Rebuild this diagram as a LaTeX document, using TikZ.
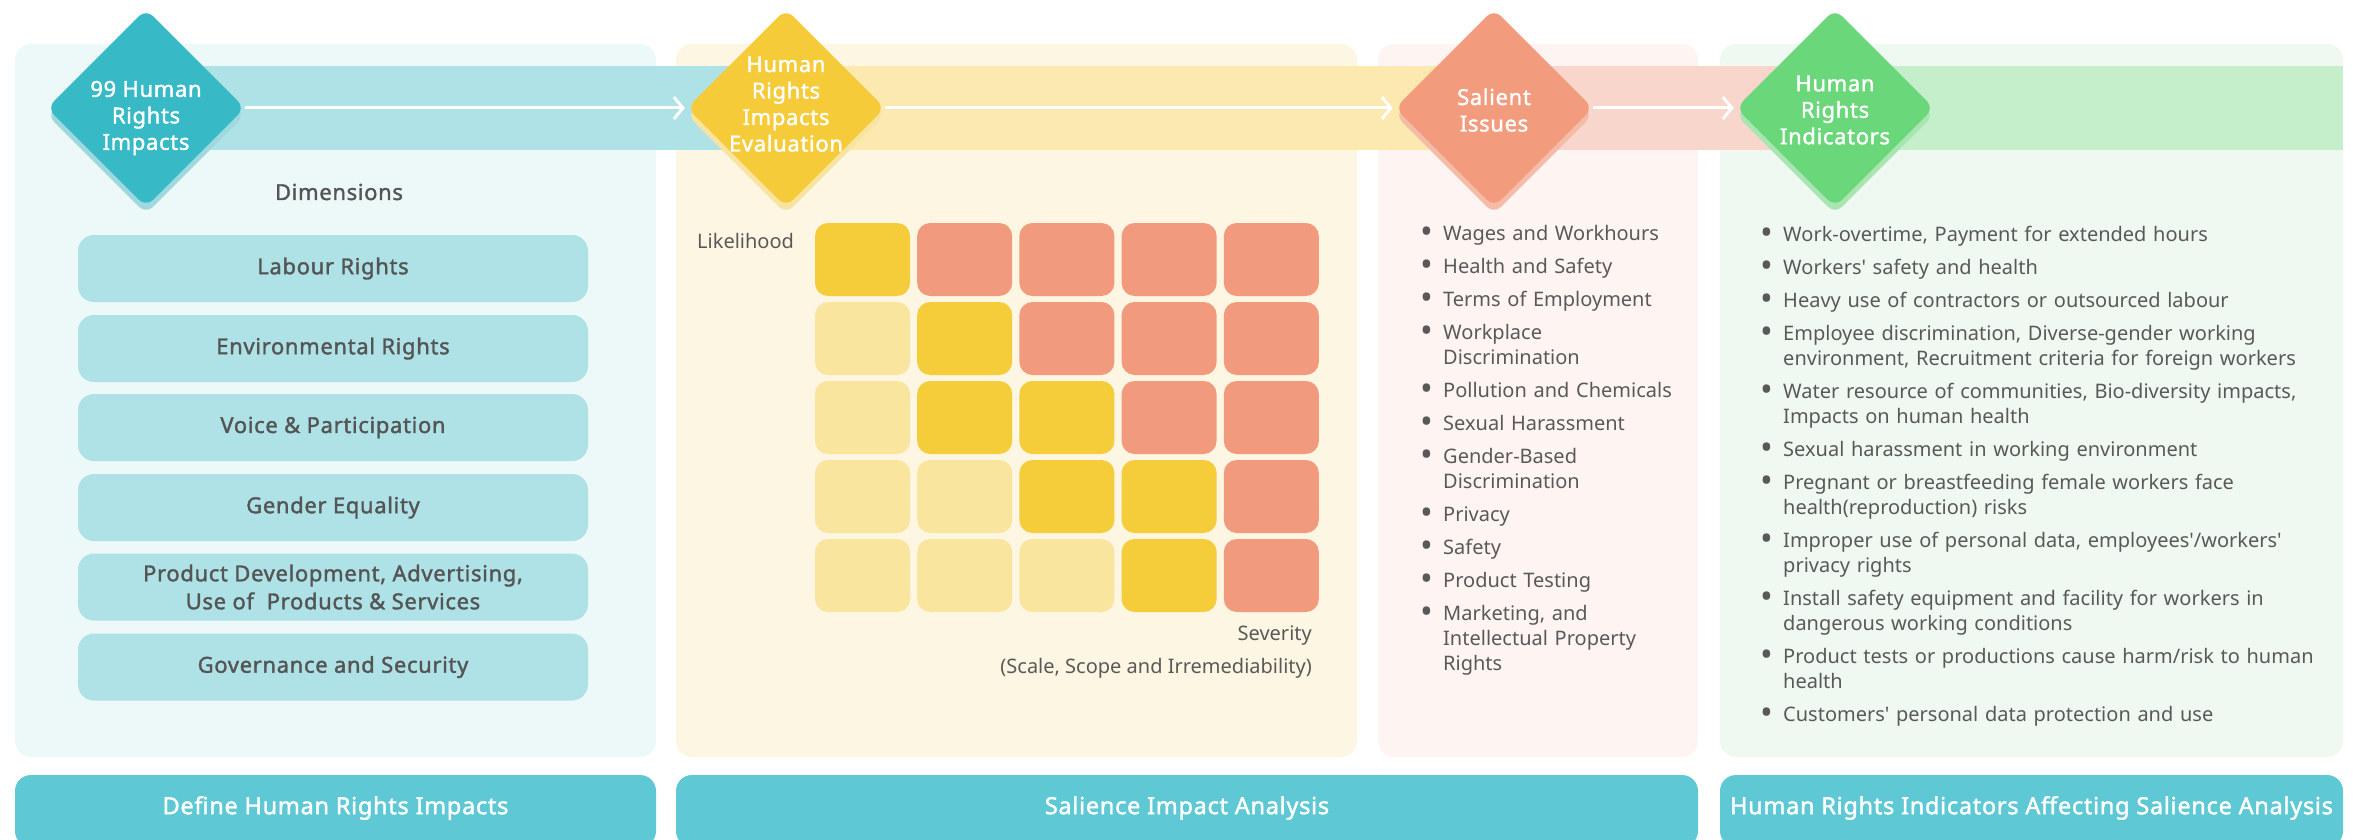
\documentclass[tikz,border=0pt]{standalone}
\usepackage{fontspec}
\setmainfont{Noto Sans}
\newfontfamily\sbf{Noto Sans}[FakeBold=1.6, LetterSpace=3]
\usetikzlibrary{shapes.geometric,arrows.meta}
\definecolor{pone}{HTML}{EDF8F9}
\definecolor{ptwo}{HTML}{FDF6E2}
\definecolor{pthree}{HTML}{FEF4F2}
\definecolor{pfour}{HTML}{EFF9F1}
\definecolor{bandA}{HTML}{AEE2E7}
\definecolor{bandB}{HTML}{FBE9B0}
\definecolor{bandC}{HTML}{F8D6CB}
\definecolor{bandD}{HTML}{C4EFCA}
\definecolor{diaA}{HTML}{37BAC6}
\definecolor{diaB}{HTML}{F5CB3A}
\definecolor{diaC}{HTML}{F29B7D}
\definecolor{diaD}{HTML}{6AD77A}
\definecolor{shA}{HTML}{9FD8DF}
\definecolor{shB}{HTML}{F9E3A0}
\definecolor{shC}{HTML}{F5BBA6}
\definecolor{shD}{HTML}{A8E5B2}
\definecolor{dimc}{HTML}{AEE2E7}
\definecolor{cellY}{HTML}{F5CD3A}
\definecolor{cellL}{HTML}{FAE59E}
\definecolor{cellS}{HTML}{F29A7D}
\definecolor{barc}{HTML}{5EC9D4}
\definecolor{textgray}{HTML}{595959}
\definecolor{textdark}{HTML}{555555}
\newcommand{\bi}{\leavevmode\llap{\raisebox{-3.2pt}{\scalebox{1.7}{\textbullet}}\hspace{10pt}}}
\begin{document}
\begin{tikzpicture}[x=1pt,y=-1pt,
  panel/.style={rounded corners=16pt},
  dimbox/.style={fill=dimc, rounded corners=16pt, minimum width=510pt, minimum height=67pt, inner sep=0pt, font=\sbf\fontsize{22}{28}\selectfont, text=textdark, align=center},
  cell/.style={rounded corners=13pt, minimum width=95pt, minimum height=73pt, inner sep=0pt},
  dia/.style={diamond, aspect=1, minimum width=198pt, minimum height=198pt, inner sep=0pt, rounded corners=10pt},
  diatext/.style={text=white, font=\sbf\fontsize{22}{26.5}\selectfont, align=center, inner sep=0pt},
  flow/.style={white, line width=3pt, -{Straight Barb[length=9pt,width=22pt]}},
  body/.style={text=textgray, font=\fontsize{20}{25}\selectfont, inner sep=0pt},
  lst/.style={body, align=left, anchor=base west},
  bar/.style={fill=barc, rounded corners=16pt, inner sep=0pt},
  bartext/.style={text=white, font=\sbf\fontsize{23.5}{28}\selectfont}
]
\useasboundingbox (0,0) rectangle (2361,840);
\clip (0,0) rectangle (2361,840);
% panels
\fill[panel, fill=pone] (15,44) rectangle (656,757);
\fill[panel, fill=ptwo] (676,44) rectangle (1357,757);
\fill[panel, fill=pthree] (1378,44) rectangle (1698,757);
\fill[panel, fill=pfour] (1720,44) rectangle (2343,757);
% bottom bars
\node[bar, minimum width=641pt, minimum height=72pt] (b1) at (335.5,811) {};
\node[bar, minimum width=1022pt, minimum height=72pt] (b2) at (1187,811) {};
\node[bar, minimum width=623pt, minimum height=72pt] (b3) at (2031.5,811) {};
\node[bartext] (bt1) at (335.5,808) {Define Human Rights Impacts};
\node[bartext] (bt2) at (1187,808) {Salience Impact Analysis};
\node[bartext] (bt3) at (2031.5,808) {Human Rights Indicators Affecting Salience Analysis};
% band
\fill[bandA] (146,66) rectangle (786,150);
\fill[bandB] (786,66) rectangle (1494,150);
\fill[bandC] (1494,66) rectangle (1835,150);
\fill[bandD] (1835,66) rectangle (2343,150);
% diamond shadows
\node[dia, fill=shA] (s1) at (146,115) {};
\node[dia, fill=shB] (s2) at (786,115) {};
\node[dia, fill=shC] (s3) at (1494,115) {};
\node[dia, fill=shD] (s4) at (1835,115) {};
% diamonds
\node[dia, fill=diaA] (d1) at (146,108) {};
\node[dia, fill=diaB] (d2) at (786,108) {};
\node[dia, fill=diaC] (d3) at (1494,108) {};
\node[dia, fill=diaD] (d4) at (1835,108) {};
\node[diatext] (t1) at (146,118) {99 Human\\Rights\\Impacts};
\node[diatext] (t2) at (786,104) {Human\\Rights\\Impacts\\Evaluation};
\node[diatext] (t3) at (1494,110) {Salient\\Issues};
\node[diatext] (t4) at (1835,110) {Human\\Rights\\Indicators};
% arrows
\draw[flow] (d1.east) -- ([xshift=-2pt]d2.west);
\draw[flow] (d2.east) -- ([xshift=-2pt]d3.west);
\draw[flow] (d3.east) -- ([xshift=-2pt]d4.west);
% dimensions
\node[text=textdark, font=\sbf\fontsize{22}{26}\selectfont] (dimt) at (339,192) {Dimensions};
\node[dimbox] (m1) at (333,268.5) {Labour Rights};
\node[dimbox] (m2) at (333,348.5) {Environmental Rights};
\node[dimbox] (m3) at (333,427.5) {Voice \& Participation};
\node[dimbox] (m4) at (333,507.5) {Gender Equality};
\node[dimbox] (m5) at (333,587) {Product Development, Advertising,\\Use of\ \ Products \& Services};
\node[dimbox] (m6) at (333,667) {Governance and Security};
% grid
\foreach \c [count=\i from 0] in {Y,S,S,S,S, L,Y,S,S,S, L,Y,Y,S,S, L,L,Y,Y,S, L,L,L,Y,S}{
  \pgfmathtruncatemacro\col{mod(\i,5)}
  \pgfmathtruncatemacro\row{div(\i,5)}
  \node[cell, fill=cell\c] (g\i) at ({862.5+102.2*\col},{259.5+79*\row}) {};
}
\node[body, anchor=base west] (lik) at (697,248) {Likelihood};
\node[body, anchor=base east] (sev) at (1312,640) {Severity};
\node[body, anchor=base east] (scl) at (1312,673) {(Scale, Scope and Irremediability)};
% salient issues list
\node[lst, text width=250pt] (list3) at (1443,240) {\bi Wages and Workhours\\[8pt]
\bi Health and Safety\\[8pt]
\bi Terms of Employment\\[8pt]
\bi Workplace\\Discrimination\\[8pt]
\bi Pollution and Chemicals\\[8pt]
\bi Sexual Harassment\\[8pt]
\bi Gender-Based\\Discrimination\\[8pt]
\bi Privacy\\[8pt]
\bi Safety\\[8pt]
\bi Product Testing\\[8pt]
\bi Marketing, and\\Intellectual Property\\Rights};
% indicators list
\node[lst, text width=560pt] (list4) at (1783,241) {\bi Work-overtime, Payment for extended hours\\[8pt]
\bi Workers\textquotesingle{} safety and health\\[8pt]
\bi Heavy use of contractors or outsourced labour\\[8pt]
\bi Employee discrimination, Diverse-gender working\\environment, Recruitment criteria for foreign workers\\[8pt]
\bi Water resource of communities, Bio-diversity impacts,\\Impacts on human health\\[8pt]
\bi Sexual harassment in working environment\\[8pt]
\bi Pregnant or breastfeeding female workers face\\health(reproduction) risks\\[8pt]
\bi Improper use of personal data, employees\textquotesingle/workers\textquotesingle\\privacy rights\\[8pt]
\bi Install safety equipment and facility for workers in\\dangerous working conditions\\[8pt]
\bi Product tests or productions cause harm/risk to human\\health\\[8pt]
\bi Customers\textquotesingle{} personal data protection and use};
\end{tikzpicture}
\end{document}
